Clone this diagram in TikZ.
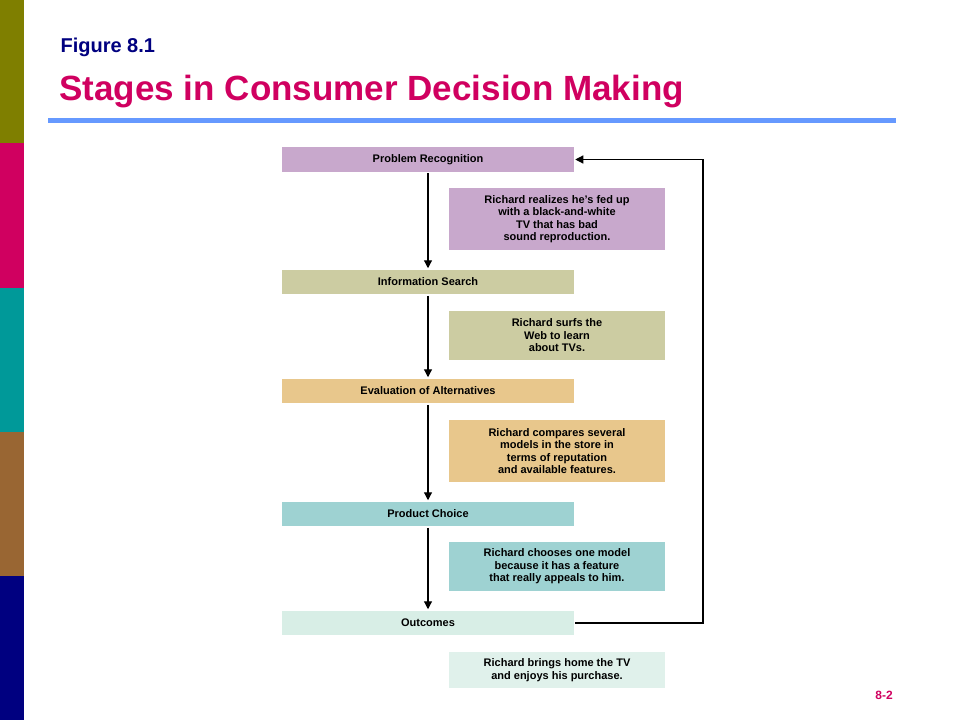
\documentclass[tikz,border=0pt]{standalone}
\usepackage{fontspec}
\setmainfont{Liberation Sans}
\usetikzlibrary{arrows.meta}
\definecolor{olv}{HTML}{7F7F00}\definecolor{mag}{HTML}{D00060}
\definecolor{tl}{HTML}{009999}\definecolor{brn}{HTML}{996633}
\definecolor{nvy}{HTML}{000080}\definecolor{bln}{HTML}{6699FF}
\definecolor{cPR}{HTML}{C8A8CC}\definecolor{cIS}{HTML}{CCCCA2}
\definecolor{cEA}{HTML}{E8C78C}\definecolor{cPC}{HTML}{9ED2D2}
\definecolor{cO}{HTML}{D8EEE6}
\begin{document}
\begin{tikzpicture}[x=1pt,y=-1pt,
 stage/.style={draw=white,line width=1.5pt,minimum width=293pt,minimum height=26pt,font=\bfseries\fontsize{11}{13}\selectfont,inner sep=0pt},
 desc/.style={minimum width=216pt,inner sep=0pt,align=center,font=\bfseries\fontsize{11}{12.5}\selectfont},
 arr/.style={-{Triangle[width=8pt,length=8pt]},line width=1.2pt}]
\useasboundingbox (0,0) rectangle (960,720);
\fill[white] (0,0) rectangle (960,720);
\fill[olv] (0,0) rectangle (24,143);
\fill[mag] (0,143) rectangle (24,288);
\fill[tl] (0,288) rectangle (24,432);
\fill[brn] (0,432) rectangle (24,576);
\fill[nvy] (0,576) rectangle (24,720);
\node[anchor=west,text=nvy,font=\bfseries\fontsize{20}{24}\selectfont] (fig) at (57,47) {Figure 8.1};
\node[anchor=west,text=mag,font=\bfseries\fontsize{35}{40}\selectfont] (ttl) at (56,92) {Stages in Consumer Decision Making};
\fill[bln] (48,118) rectangle (896,123);
\node[stage,fill=cPR] (pr) at (428,159.5) {Problem Recognition};
\node[stage,fill=cIS] (is) at (428,282) {Information Search};
\node[stage,fill=cEA] (ea) at (428,391) {Evaluation of Alternatives};
\node[stage,fill=cPC] (pc) at (428,514) {Product Choice};
\node[stage,fill=cO] (o) at (428,623) {Outcomes};
\node[desc,fill=cPR,minimum height=62pt] (d1) at (557,219) {Richard realizes he's fed up\\with a black-and-white\\TV that has bad\\sound reproduction.};
\node[desc,fill=cIS,minimum height=49pt] (d2) at (557,335.5) {Richard surfs the\\Web to learn\\about TVs.};
\node[desc,fill=cEA,minimum height=62pt] (d3) at (557,451) {Richard compares several\\models in the store in\\terms of reputation\\and available features.};
\node[desc,fill=cPC,minimum height=49pt] (d4) at (557,566.5) {Richard chooses one model\\because it has a feature\\that really appeals to him.};
\node[desc,fill=cO!80!white,minimum height=36pt] (d5) at (557,670) {Richard brings home the TV\\and enjoys his purchase.};
\draw[arr] (pr) -- (is);
\draw[arr] (is) -- (ea);
\draw[arr] (ea) -- (pc);
\draw[arr] (pc) -- (o);
\coordinate (r) at (703,0);
\draw[arr] (o.east) -- (o.east -| r) -- (pr.east -| r) -- (pr.east);
\node[text=mag,font=\bfseries\fontsize{12}{14}\selectfont] (pg) at (884,695) {8-2};
\end{tikzpicture}
\end{document}
